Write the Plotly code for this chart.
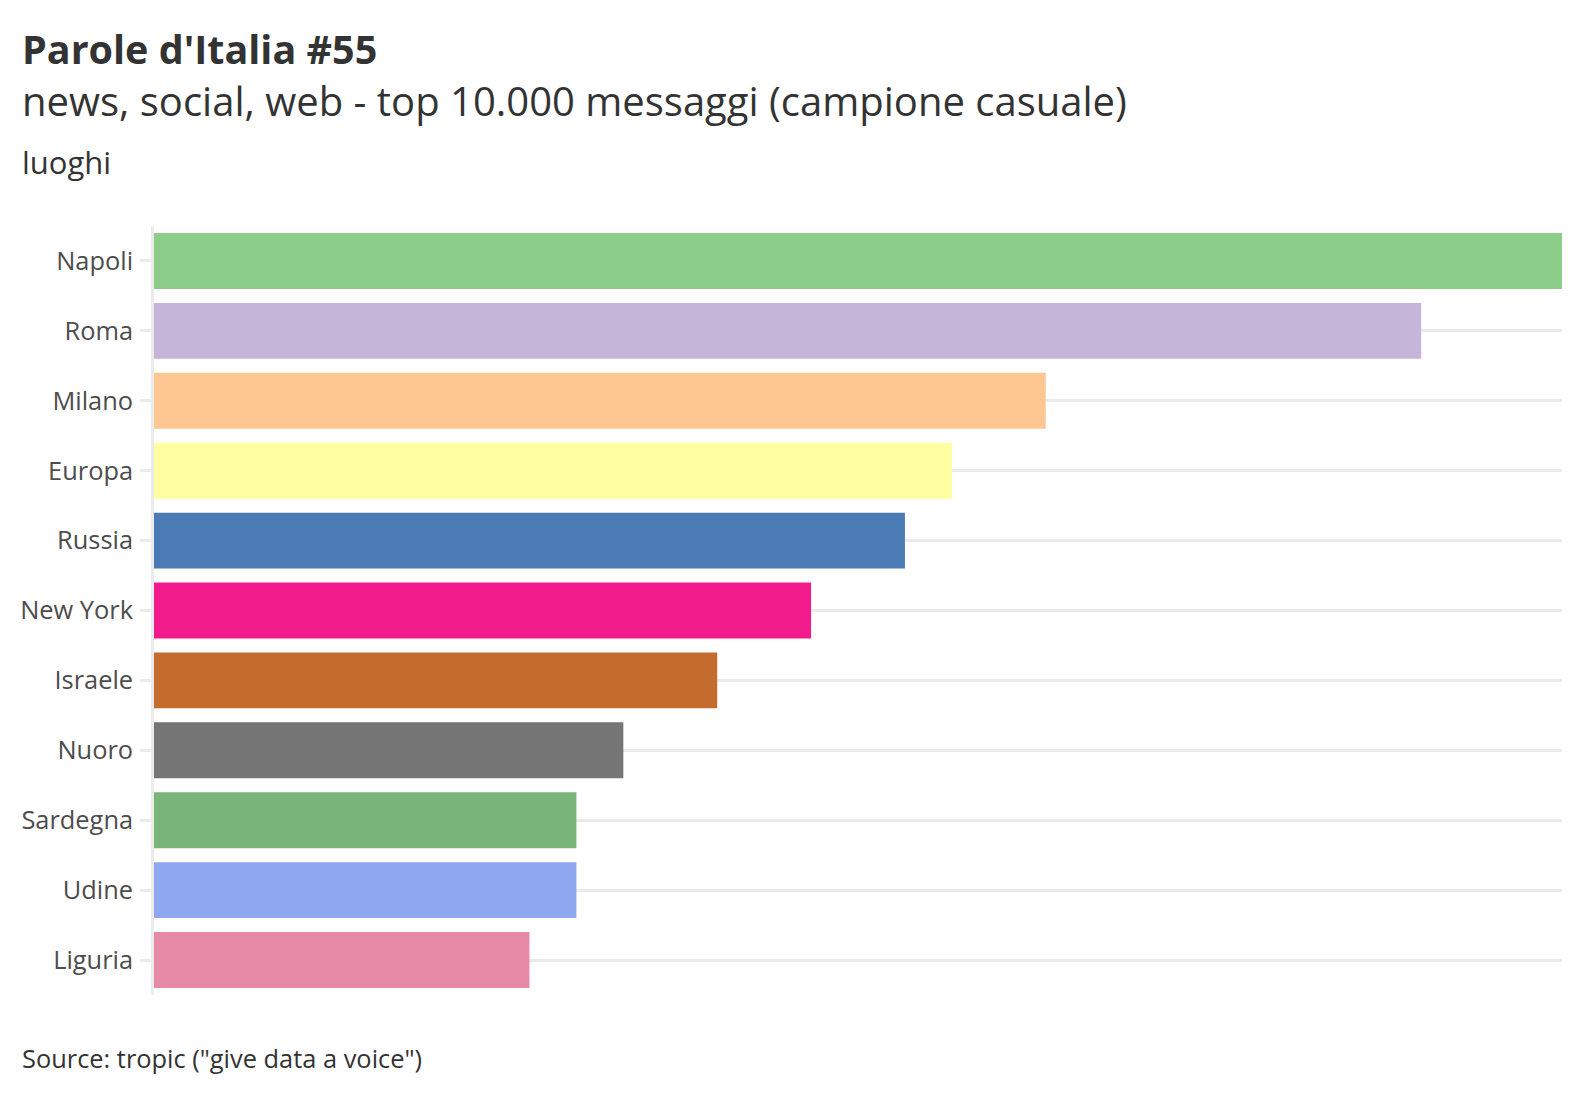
import plotly.graph_objects as go

places = ["Napoli", "Roma", "Milano", "Europa", "Russia", "New York",
          "Israele", "Nuoro", "Sardegna", "Udine", "Liguria"]
counts = [30, 27, 19, 17, 16, 14, 12, 10, 9, 9, 8]
colors = ["#8ccd8a", "#c5b5d8", "#fec691", "#ffffa1", "#4b7bb5", "#f21b8c",
          "#c46b2e", "#757575", "#79b579", "#8ea7ee", "#e78aa5"]

title = "Parole d'Italia #55"
subtitle = "news, social, web - top 10.000 messaggi (campione casuale)"
axis_title = "luoghi"
caption = 'Source: tropic ("give data a voice")'

FONT = "Open Sans"
TXT = "#333333"

OFF = 8  # page body margin offset
W, H = 1588 - OFF, 1096 - OFF
# target screen coords of plot area: x 154..1562, y 226..995
L = 154 - OFF
T = 226 - OFF
R = W - (1562 - OFF)
B = H - (995 - OFF)
PW, PH = W - L - R, H - T - B

def px(x):
    return (x - OFF - L) / PW

def py(y):
    return (H - B - (y - OFF)) / PH

fig = go.Figure(go.Bar(
    x=counts, y=places, orientation="h",
    marker=dict(color=colors, line=dict(width=0)),
    width=0.8,
))

fig.update_layout(
    width=W, height=H,
    margin=dict(l=L, r=R, t=T, b=B, pad=0),
    plot_bgcolor="white", paper_bgcolor="white",
    showlegend=False,
    font=dict(family=FONT, color=TXT),
    xaxis=dict(range=[0, 30], showgrid=False, showticklabels=False,
               zeroline=False, ticks="", fixedrange=True),
    yaxis=dict(categoryorder="array", categoryarray=places[::-1],
               range=[-0.5, len(places) - 0.5],
               showgrid=True, gridcolor="#ebebeb", gridwidth=2.7,
               showline=True, linecolor="#ebebeb", linewidth=2.7,
               ticks="outside", ticklen=11, tickwidth=2.7, tickcolor="#ebebeb",
               tickfont=dict(size=25.4, color="#4d4d4d", family=FONT),
               ticklabelstandoff=2, zeroline=False),
    annotations=[
        dict(text="<b>" + title + "</b>", xref="paper", yref="paper",
             x=px(20), y=py(49), xanchor="left", yanchor="middle",
             showarrow=False, font=dict(size=39.5, color="#333333")),
        dict(text=subtitle, xref="paper", yref="paper",
             x=px(20), y=py(101), xanchor="left", yanchor="middle",
             showarrow=False, font=dict(size=40, color="#333333")),
        dict(text=axis_title, xref="paper", yref="paper",
             x=px(20), y=py(162), xanchor="left", yanchor="middle",
             showarrow=False, font=dict(size=31, color="#333333")),
        dict(text=caption, xref="paper", yref="paper",
             x=px(20), y=py(1058), xanchor="left", yanchor="middle",
             showarrow=False, font=dict(size=25.4, color="#333333")),
    ],
)

fig.write_html("out.html")
